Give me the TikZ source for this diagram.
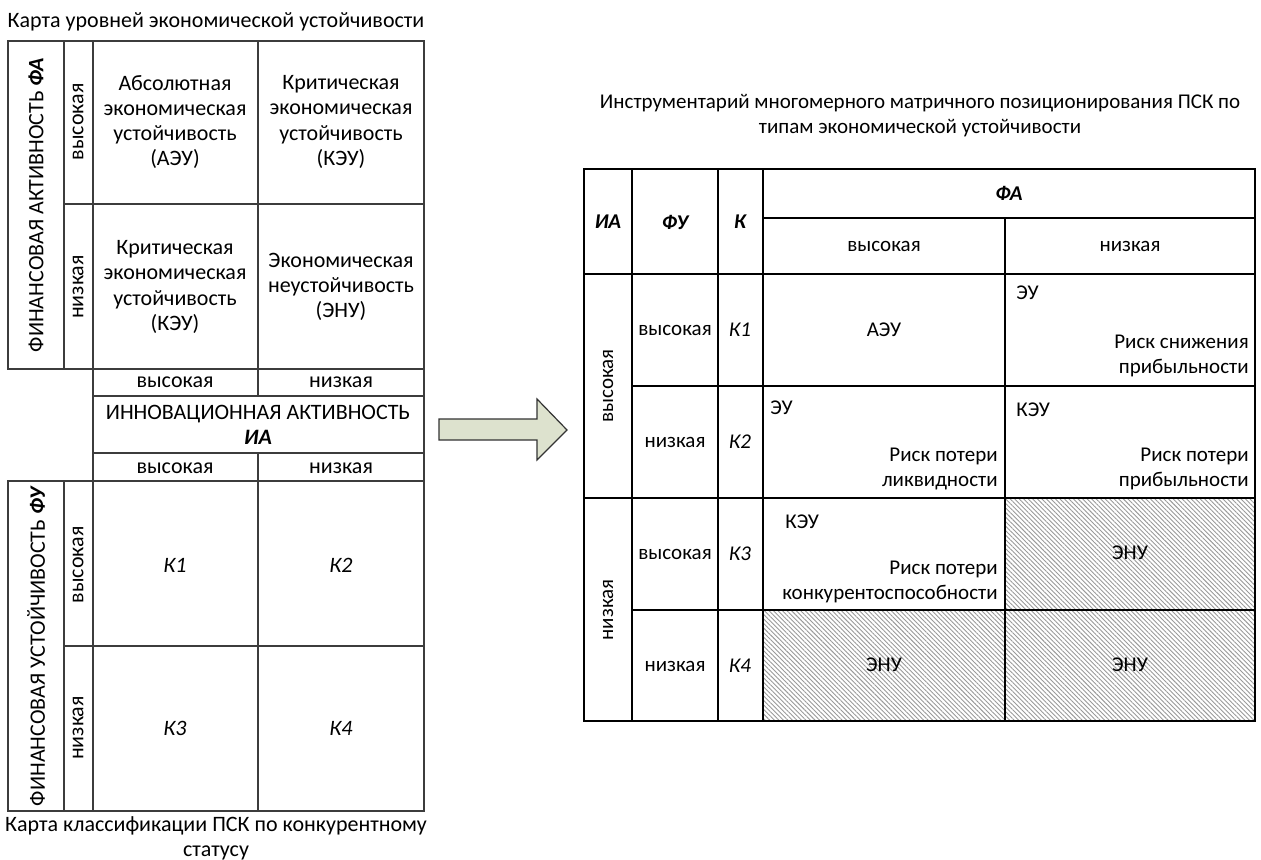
\documentclass[tikz,border=0pt]{standalone}
\usepackage{fontspec}
\setmainfont{Carlito}
\usetikzlibrary{calc, positioning, patterns.meta}

\definecolor{arrowfill}{RGB}{221,226,206}
\definecolor{linegray}{RGB}{60,60,60}

\tikzset{
    txt/.style={inner sep=0pt, align=center},
    ltxtbig/.style={inner sep=0pt, align=center, font=\fontsize{11}{12.6}\selectfont},
    rtxt/.style={inner sep=0pt, align=right, anchor=east},
    ltxt/.style={inner sep=0pt, anchor=west},
    bi/.style={font=\fontsize{10.5}{12.6}\selectfont\bfseries\itshape},
    it/.style={font=\fontsize{10.5}{12.6}\selectfont\itshape},
    hatch/.style={pattern={Lines[angle=-45, distance=1.6pt, line width=0.45pt]}, pattern color=gray!80},
    leftgrid/.style={draw=linegray, line width=0.6pt},
    rightgrid/.style={draw=black, line width=0.7pt}
}

\begin{document}
\begin{tikzpicture}[x=0.5pt, y=-0.5pt, font=\fontsize{10.5}{12.6}\selectfont]
    \useasboundingbox (0,0) rectangle (1261,860);

    % 1. Карта уровней экономической устойчивости (вверху слева)
    \node[ltxtbig] (mapEU) at (216,22) {Карта уровней экономической устойчивости};
    \draw[leftgrid] (8,41) rectangle (424,369);
    \draw[leftgrid] (64,41) -- (64,369);
    \draw[leftgrid] (93,41) -- (93,369);
    \draw[leftgrid] (258,41) -- (258,369);
    \draw[leftgrid] (64,204) -- (424,204);

    \node[ltxtbig, rotate=90] (faTitle) at (36,205) {ФИНАНСОВАЯ АКТИВНОСТЬ \textbf{\textit{ФА}}};
    \node[ltxtbig, rotate=90] (faHigh) at (78,122) {высокая};
    \node[ltxtbig, rotate=90] (faLow) at (78,287) {низкая};

    \node[ltxtbig] (aeuL) at (175,122) {Абсолютная\\экономическая\\устойчивость\\(АЭУ)};
    \node[ltxtbig] (keuA) at (341,122) {Критическая\\экономическая\\устойчивость\\(КЭУ)};
    \node[ltxtbig] (keuB) at (175,287) {Критическая\\экономическая\\устойчивость\\(КЭУ)};
    \node[ltxtbig] (enuL) at (341,287) {Экономическая\\неустойчивость\\(ЭНУ)};

    % 2. Инновационная активность (середина)
    \draw[leftgrid] (93,369) rectangle (424,481);
    \draw[leftgrid] (93,396) -- (424,396);
    \draw[leftgrid] (93,453) -- (424,453);
    \draw[leftgrid] (258,369) -- (258,396);
    \draw[leftgrid] (258,453) -- (258,481);

    \node[ltxtbig] (iaHighA) at (175,382) {высокая};
    \node[ltxtbig] (iaLowA) at (341,382) {низкая};
    \node[ltxtbig] (iaTitle) at (258,425) {ИННОВАЦИОННАЯ АКТИВНОСТЬ\\\textbf{\textit{ИА}}};
    \node[ltxtbig] (iaHighB) at (175,468) {высокая};
    \node[ltxtbig] (iaLowB) at (341,468) {низкая};

    % 3. Карта классификации ПСК (внизу слева)
    \draw[leftgrid] (8,481) rectangle (424,811);
    \draw[leftgrid] (64,481) -- (64,811);
    \draw[leftgrid] (93,481) -- (93,811);
    \draw[leftgrid] (258,481) -- (258,811);
    \draw[leftgrid] (64,646) -- (424,646);

    \node[ltxtbig, rotate=90] (fuTitle) at (36,646) {ФИНАНСОВАЯ УСТОЙЧИВОСТЬ \textbf{\textit{ФУ}}};
    \node[ltxtbig, rotate=90] (fuHigh) at (78,565) {высокая};
    \node[ltxtbig, rotate=90] (fuLow) at (78,728) {низкая};

    \node[ltxtbig, font=\fontsize{11}{12.6}\selectfont\itshape] (kOne) at (175,565) {К1};
    \node[ltxtbig, font=\fontsize{11}{12.6}\selectfont\itshape] (kTwo) at (341,565) {К2};
    \node[ltxtbig, font=\fontsize{11}{12.6}\selectfont\itshape] (kThree) at (175,728) {К3};
    \node[ltxtbig, font=\fontsize{11}{12.6}\selectfont\itshape] (kFour) at (341,728) {К4};

    \node[ltxtbig] (mapPSK) at (216,838) {Карта классификации ПСК по конкурентному\\статусу};

    % 4. Стрелка
    \draw[fill=arrowfill, draw=black!80, line width=0.6pt]
        (439,419) -- (537,419) -- (537,399) -- (567,430) -- (537,460) -- (537,440) -- (439,440) -- cycle;

    % 5. Инструментарий матричного позиционирования (справа)
    \node[txt] (toolTitle) at (920,116) {Инструментарий многомерного матричного позиционирования ПСК по\\типам экономической устойчивости};

    \fill[hatch] (1005,498) rectangle (1255,610);
    \fill[hatch] (763,610) rectangle (1255,721);

    \draw[rightgrid] (584,169) rectangle (1255,721);
    \foreach \x in {632, 718, 763} {
        \draw[rightgrid] (\x,169) -- (\x,721);
    }
    \draw[rightgrid] (1005,218) -- (1005,721);
    \draw[rightgrid] (763,218) -- (1255,218);
    \draw[rightgrid] (584,274) -- (1255,274);
    \draw[rightgrid] (632,386) -- (1255,386);
    \draw[rightgrid] (584,498) -- (1255,498);
    \draw[rightgrid] (632,610) -- (1255,610);

    % шапка
    \node[bi, inner sep=0pt] (hIA) at (608,222) {ИА};
    \node[bi, inner sep=0pt] (hFU) at (675,222) {ФУ};
    \node[bi, inner sep=0pt] (hK) at (740,222) {К};
    \node[bi, inner sep=0pt] (hFA) at (1009,193) {ФА};
    \node[txt] (hHigh) at (884,246) {высокая};
    \node[txt] (hLow) at (1130,246) {низкая};

    % строки
    \node[txt, rotate=90] (iaHighR) at (608,386) {высокая};
    \node[txt, rotate=90] (iaLowR) at (608,610) {низкая};
    \node[txt] (fuOne) at (675,330) {высокая};
    \node[txt] (fuTwo) at (675,442) {низкая};
    \node[txt] (fuThree) at (675,554) {высокая};
    \node[txt] (fuFour) at (675,666) {низкая};
    \node[it, inner sep=0pt] (kR1) at (740,330) {К1};
    \node[it, inner sep=0pt] (kR2) at (740,442) {К2};
    \node[it, inner sep=0pt] (kR3) at (740,554) {К3};
    \node[it, inner sep=0pt] (kR4) at (740,666) {К4};

    % ячейки
    \node[txt] (cAEU) at (884,330) {АЭУ};
    \node[ltxt] (cEUa) at (1016,293) {ЭУ};
    \node[rtxt] (cRiskA) at (1249,356) {Риск снижения\\прибыльности};
    \node[ltxt] (cEUb) at (770,408) {ЭУ};
    \node[rtxt] (cRiskB) at (998,469) {Риск потери\\ликвидности};
    \node[ltxt] (cKEUa) at (1016,410) {КЭУ};
    \node[rtxt] (cRiskC) at (1249,469) {Риск потери\\прибыльности};
    \node[ltxt] (cKEUb) at (785,522) {КЭУ};
    \node[rtxt] (cRiskD) at (998,582) {Риск потери\\конкурентоспособности};
    \node[txt] (cENUa) at (1130,553) {ЭНУ};
    \node[txt] (cENUb) at (884,665) {ЭНУ};
    \node[txt] (cENUc) at (1130,665) {ЭНУ};

\end{tikzpicture}
\end{document}
